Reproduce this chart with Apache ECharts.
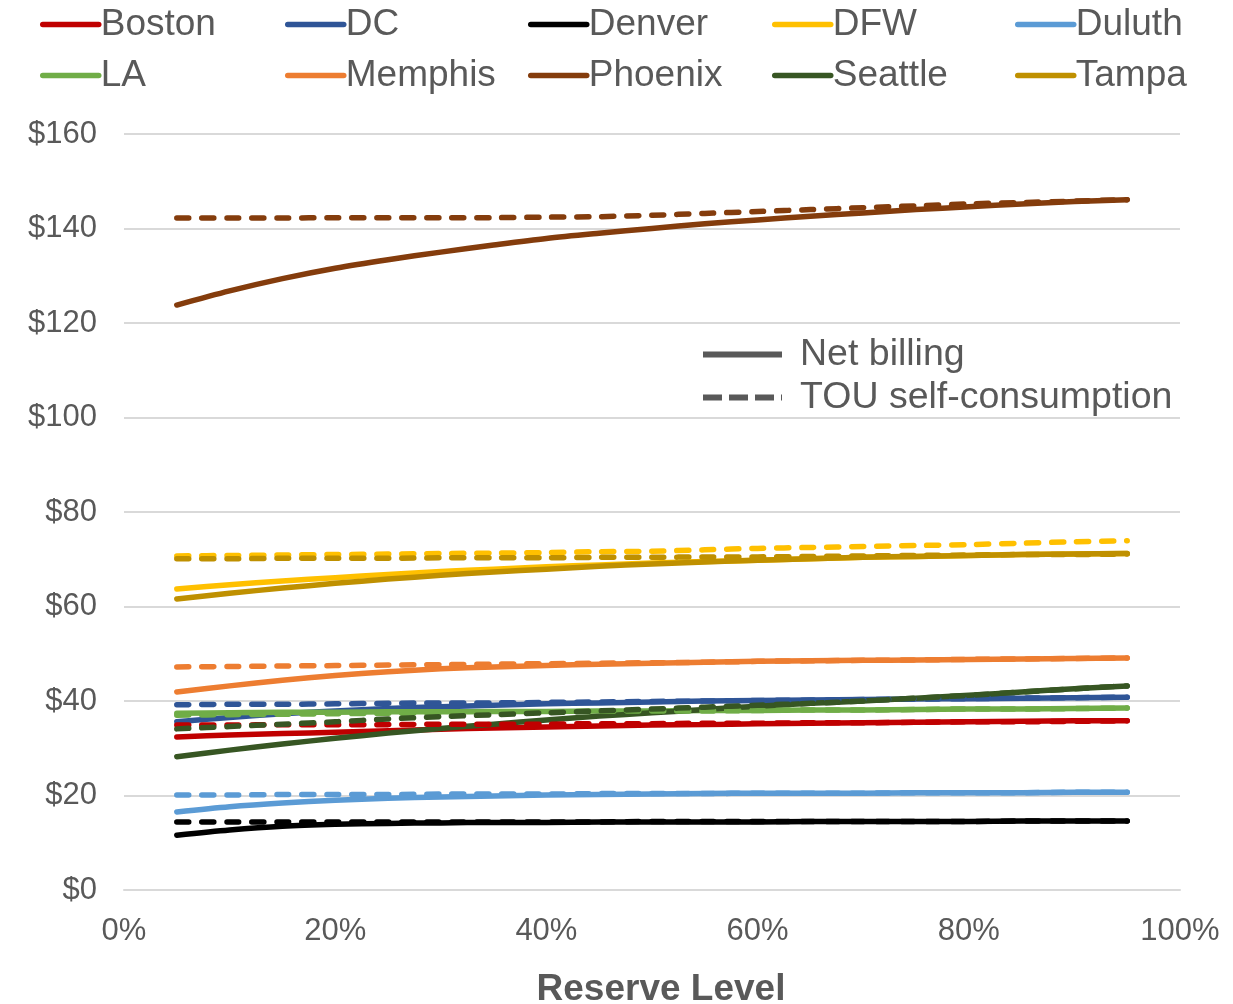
<!DOCTYPE html>
<html>
<head>
<meta charset="utf-8">
<script src="https://cdn.jsdelivr.net/npm/echarts@6/dist/echarts.min.js"></script>
<style>html,body{margin:0;padding:0;background:#fff}#c{width:1233px;height:1004px}</style>
</head>
<body>
<div id="c"></div>
<script>
// Reserve level (%) at which each value is reported
const reserveLevels = [5,10,15,20,25,30,35,40,45,50,55,60,65,70,75,80,85,90,95];
const cities = ['Boston','DC','Denver','DFW','Duluth','LA','Memphis','Phoenix','Seattle','Tampa'];
const cityColors = ['#C00000','#2F5597','#000000','#FFC000','#5B9BD5','#70AD47','#ED7D31','#843C0C','#375623','#BF9000'];
const yTicks = [0,20,40,60,80,100,120,140,160];
const xTicks = [0,20,40,60,80,100];

// Net billing (solid)
const bostonNet  = [32.4,32.8,33.1,33.4,33.7,34.0,34.3,34.5,34.7,34.9,35.0,35.2,35.3,35.4,35.5,35.6,35.7,35.8,35.8];
const dcNet      = [35.6,36.5,37.3,37.9,38.4,38.8,39.1,39.4,39.6,39.8,40.0,40.1,40.2,40.3,40.4,40.5,40.6,40.7,40.8];
const denverNet  = [11.6,12.7,13.5,13.9,14.1,14.2,14.3,14.3,14.4,14.4,14.4,14.4,14.5,14.5,14.5,14.5,14.6,14.6,14.6];
const dfwNet     = [63.7,64.6,65.4,66.1,66.8,67.4,67.9,68.4,68.8,69.2,69.5,69.8,70.1,70.4,70.6,70.8,71.0,71.1,71.2];
const duluthNet  = [16.5,17.6,18.4,19.0,19.4,19.7,19.9,20.1,20.2,20.3,20.4,20.5,20.5,20.5,20.6,20.6,20.6,20.7,20.7];
const laNet      = [37.4,37.5,37.6,37.6,37.7,37.7,37.8,37.8,37.9,37.9,38.0,38.0,38.1,38.1,38.2,38.3,38.3,38.4,38.5];
const memphisNet = [41.9,43.2,44.4,45.4,46.2,46.8,47.2,47.5,47.8,48.0,48.2,48.4,48.5,48.6,48.7,48.8,48.9,49.0,49.1];
const phoenixNet = [123.8,126.8,129.4,131.6,133.4,135.0,136.5,137.9,139.0,140.0,141.0,141.8,142.6,143.3,144.0,144.6,145.2,145.7,146.1];
const seattleNet = [28.2,29.6,30.9,32.1,33.2,34.2,35.1,36.0,36.8,37.5,38.2,38.9,39.5,40.0,40.6,41.2,41.9,42.6,43.2];
const tampaNet   = [61.6,62.8,63.9,64.9,65.8,66.6,67.3,67.9,68.5,69.0,69.4,69.8,70.1,70.4,70.6,70.8,71.0,71.1,71.2];

// TOU self-consumption (dashed)
const bostonTou  = [34.9,34.9,35.0,35.0,35.0,35.1,35.1,35.1,35.2,35.2,35.3,35.3,35.4,35.4,35.5,35.6,35.6,35.7,35.8];
const dcTou      = [39.2,39.3,39.3,39.4,39.5,39.6,39.6,39.7,39.8,39.9,40.0,40.1,40.2,40.3,40.4,40.5,40.6,40.7,40.8];
const denverTou  = [14.4,14.4,14.4,14.4,14.4,14.4,14.4,14.4,14.4,14.5,14.5,14.5,14.5,14.5,14.5,14.5,14.6,14.6,14.6];
const dfwTou     = [70.7,70.8,70.9,71.0,71.1,71.2,71.3,71.4,71.6,71.7,72.0,72.3,72.5,72.7,72.9,73.1,73.4,73.7,73.9];
const duluthTou  = [20.1,20.1,20.2,20.2,20.2,20.3,20.3,20.3,20.4,20.4,20.4,20.5,20.5,20.5,20.6,20.6,20.6,20.7,20.7];
const laTou      = [37.0,37.1,37.2,37.3,37.4,37.5,37.6,37.7,37.8,37.9,37.9,38.0,38.1,38.1,38.2,38.3,38.3,38.4,38.5];
const memphisTou = [47.2,47.3,47.4,47.5,47.6,47.7,47.8,47.9,48.0,48.1,48.2,48.4,48.5,48.6,48.7,48.8,48.9,49.0,49.1];
const phoenixTou = [142.2,142.2,142.2,142.3,142.3,142.3,142.3,142.4,142.5,142.8,143.2,143.6,144.0,144.4,144.8,145.2,145.5,145.8,146.1];
const seattleTou = [34.1,34.6,35.1,35.6,36.2,36.7,37.1,37.5,37.9,38.3,38.7,39.1,39.5,40.0,40.6,41.2,41.9,42.6,43.2];
const tampaTou   = [70.1,70.1,70.2,70.2,70.2,70.3,70.3,70.3,70.4,70.4,70.5,70.5,70.6,70.7,70.8,70.9,71.0,71.0,71.1];

const netSeries = [bostonNet,dcNet,denverNet,dfwNet,duluthNet,laNet,memphisNet,phoenixNet,seattleNet,tampaNet];
const touSeries = [bostonTou,dcTou,denverTou,dfwTou,duluthTou,laTou,memphisTou,phoenixTou,seattleTou,tampaTou];

const FONT = '"Liberation Sans", Arial, sans-serif';
const TXT = '#595959';
const pair = arr => arr.map((v, i) => [reserveLevels[i], v]);

const series = [];
cities.forEach((c, i) => {
  series.push({
    name: c, type: 'line', smooth: 0.3, symbol: 'none', data: pair(netSeries[i]),
    color: cityColors[i],
    lineStyle: { width: 5.5, color: cityColors[i], cap: 'round', join: 'round' }
  });
});
cities.forEach((c, i) => {
  series.push({
    name: c, type: 'line', smooth: 0.3, symbol: 'none', data: pair(touSeries[i]),
    color: cityColors[i],
    lineStyle: { width: 5.5, color: cityColors[i], type: [12, 13], cap: 'round', join: 'round' }
  });
});
series.push({ name: 'Net billing', type: 'line', data: [], symbol: 'none', color: TXT,
  lineStyle: { width: 6, color: TXT } });
series.push({ name: 'TOU self-consumption', type: 'line', data: [], symbol: 'none', color: TXT,
  lineStyle: { width: 6, color: TXT, type: [19, 7] } });

const hiddenSymbol = { color: 'rgba(0,0,0,0)', borderWidth: 0, opacity: 0 };
const colLefts = [40, 285, 528, 772, 1015];
const legends = colLefts.map((l, k) => ({
  orient: 'vertical', left: l, top: 4, padding: 0, itemWidth: 56, itemHeight: 14, itemGap: 10,
  selectedMode: false,
  data: [cities[k], cities[k + 5]],
  itemStyle: hiddenSymbol,
  lineStyle: { width: 5.5, cap: 'round' },
  textStyle: { fontFamily: FONT, fontSize: 37, color: TXT, lineHeight: 41, padding: [0, 0, 0, -3] }
}));
legends.push({
  orient: 'vertical', left: 700, top: 334, padding: 0, itemWidth: 79, itemHeight: 14, itemGap: 2,
  selectedMode: false,
  itemStyle: hiddenSymbol,
  lineStyle: { width: 6 },
  data: [
    { name: 'Net billing' },
    { name: 'TOU self-consumption', lineStyle: { type: [19, 7], width: 6 } }
  ],
  textStyle: { fontFamily: FONT, fontSize: 37.5, color: TXT, lineHeight: 41, padding: [0, 0, 0, 13] }
});

const chart = echarts.init(document.getElementById('c'), null, { renderer: 'canvas' });
chart.setOption({
  animation: false,
  backgroundColor: '#fff',
  legend: legends,
  grid: { left: 124, right: 53, top: 134, bottom: 114, containLabel: false, outerBoundsMode: 'none' },
  xAxis: {
    type: 'value', min: xTicks[0], max: xTicks[xTicks.length - 1], interval: 20,
    name: 'Reserve Level', nameLocation: 'middle', nameGap: 81,
    nameTextStyle: { fontFamily: FONT, fontSize: 37, fontWeight: 'bold', color: TXT, padding: [0, 0, 0, 18] },
    axisLine: { show: true, lineStyle: { color: '#D9D9D9', width: 2 } },
    axisTick: { show: false },
    splitLine: { show: false },
    axisLabel: { fontFamily: FONT, fontSize: 31, color: TXT, margin: 26, formatter: '{value}%' }
  },
  yAxis: {
    type: 'value', min: yTicks[0], max: yTicks[yTicks.length - 1], interval: 20,
    axisLine: { show: false }, axisTick: { show: false },
    splitLine: { lineStyle: { color: '#D9D9D9', width: 2 } },
    axisLabel: { fontFamily: FONT, fontSize: 31, color: TXT, margin: 27, formatter: v => '$' + v }
  },
  series: series
});
</script>
</body>
</html>
